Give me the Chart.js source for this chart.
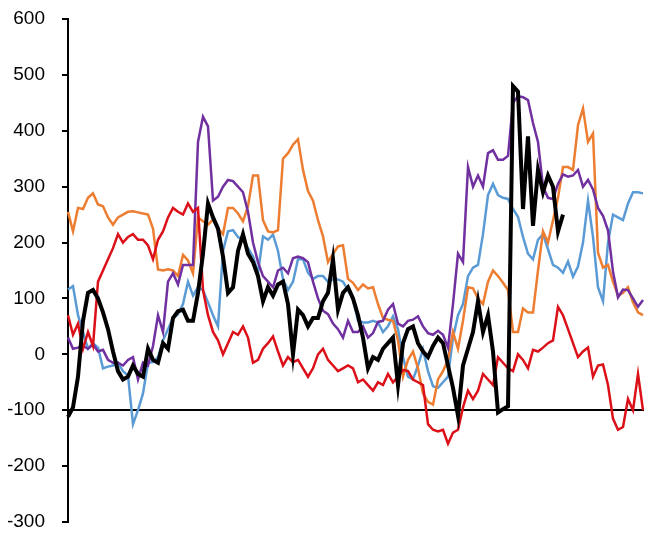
<!DOCTYPE html>
<html>
<head>
<meta charset="utf-8">
<script src="https://cdn.jsdelivr.net/npm/chart.js@4/dist/chart.umd.min.js"></script>
<style>
  body { margin: 0; background: #fff; }
  #wrap { width: 651px; height: 533px; }
</style>
</head>
<body>
<div id="wrap"><canvas id="chart"></canvas></div>
<script>
// values, one per step along the x axis
const orange = [
    255, 220, 262, 260, 280, 288, 268, 265, 245, 232,
    245, 250, 255, 256, 254, 252, 250, 225, 152, 150,
    152, 150, 140, 178, 168, 145, 245, 238, 232, 241,
    225, 215, 262, 262, 252, 238, 265, 320, 320, 240,
    220, 218, 222, 350, 360, 375, 385, 330, 292, 275,
    240, 211, 165, 180, 193, 195, 135, 128, 115, 125,
    118, 120, 90, 65, 62, 60, 25, -40, -10, 5,
    -25, -70, -85, -90, -45, -30, -10, 40, 10, 60,
    120, 118, 100, 90, 130, 150, 140, 128, 115, 40,
    40, 82, 75, 75, 150, 220, 200, 240, 280, 335,
    335, 330, 410, 440, 380, 395, 182, 155, 160, 130,
    105, 110, 120, 93, 75, 70
];

const blue = [
    116, 122, 70, 40, 10, 20, 12, -25, -22, -20,
    -15, -30, -38, -125, -100, -70, -15, -14, -5, 25,
    45, 65, 72, 90, 130, 105, 120, 115, 93, 70,
    50, 185, 220, 222, 210, 205, 190, 175, 146, 211,
    205, 214, 185, 134, 115, 130, 170, 170, 146, 135,
    140, 140, 130, 134, 134, 130, 115, 98, 60, 57,
    57, 60, 57, 40, 50, 68, 45, -5, -40, -45,
    -20, 9, -30, -57, -60, -50, -40, 30, 70, 90,
    140, 155, 160, 215, 285, 305, 285, 280, 278, 260,
    246, 210, 180, 170, 205, 215, 188, 160, 155, 146,
    166, 139, 157, 200, 275, 210, 120, 95, 200, 250,
    245, 240, 270, 290, 290, 288
];

const purple = [
    30, 10, 12, 15, 10, 18, 5, 8, -10, -15,
    -15, -20, -10, -5, -45, -15, -20, 15, 70, 40,
    130, 145, 125, 160, 160, 160, 380, 425, 408, 275,
    282, 300, 312, 310, 300, 290, 255, 200, 165, 140,
    130, 120, 150, 155, 145, 172, 175, 172, 165, 130,
    100, 78, 72, 55, 45, 30, 60, 40, 40, 50,
    30, 38, 58, 60, 80, 90, 55, 50, 60, 62,
    68, 50, 38, 35, 42, 35, 12, 90, 180, 165,
    335, 300, 320, 300, 360, 365, 348, 348, 355, 450,
    462, 460, 455, 414, 380, 300, 280, 278, 305, 322,
    318, 320, 330, 300, 312, 295, 262, 248, 222, 148,
    102, 116, 115, 100, 85, 97
];

const red = [
    70, 35, 55, 10, 40, 15, 130, 150, 170, 190,
    215, 200, 210, 215, 205, 205, 195, 170, 205, 220,
    245, 262, 255, 250, 270, 255, 262, 115, 70, 40,
    25, 0, 20, 40, 35, 50, 30, -15, -10, 10,
    20, 32, 5, -20, -5, -14, -10, -25, -40, -25,
    0, 10, -10, -20, -30, -25, -20, -25, -50, -45,
    -55, -65, -50, -55, -35, -50, -40, -28, -30, -45,
    -50, -55, -125, -135, -138, -135, -160, -140, -135, -95,
    -65, -80, -65, -35, -45, -55, -5, -15, -25, -30,
    0, -10, -25, 8, 5, 12, 20, 25, 85, 70,
    45, 20, -5, 5, 12, -40, -20, -18, -55, -115,
    -135, -130, -80, -100, -35, -100
];

const black = [
    -112, -95, -40, 60, 110, 115, 100, 75, 45, 5,
    -30, -45, -40, -20, -35, -40, 10, -10, -15, 20,
    10, 65, 77, 80, 60, 60, 110, 180, 270, 245,
    225, 175, 110, 120, 185, 215, 180, 165, 140, 95,
    120, 105, 125, 130, 90, 0, 80, 70, 50, 65,
    65, 95, 110, 170, 80, 110, 120, 100, 70, 30,
    -25, -5, -10, 10, 20, 30, -55, 20, 45, 50,
    20, 5, -5, 15, 30, 20, -20, -60, -110, -20,
    10, 40, 95, 40, 70, 5, -104, -98, -93, 480,
    470, 260, 390, 230, 330, 290, 320, 300, 220, 250,
    null, null, null, null, null, null, null, null, null, null,
    null, null, null, null, null, null
];

const labels = orange.map((v, i) => String(i + 1));
const yTicks = { min: -300, max: 600, step: 100 };

Chart.defaults.font.family = '"Liberation Sans", Arial, sans-serif';
Chart.defaults.font.size = 19;
Chart.defaults.color = '#000';

function line(data, color, width) {
    return {
        data: data,
        borderColor: color,
        borderWidth: width,
        pointRadius: 0,
        tension: 0,
        fill: false,
        spanGaps: false
    };
}

new Chart(document.getElementById('chart'), {
    type: 'line',
    data: {
        labels: labels,
        datasets: [
            line(black, '#000000', 4),
            line(red, '#DC1018', 2.5),
            line(purple, '#7030A0', 2.5),
            line(orange, '#ED7D31', 2.5),
            line(blue, '#5B9BD5', 2.5)
        ]
    },
    options: {
        responsive: true,
        maintainAspectRatio: false,
        animation: false,
        layout: {
            padding: { top: 19, right: 8, bottom: 11, left: 8 }
        },
        plugins: {
            legend: { display: false },
            tooltip: { enabled: false }
        },
        scales: {
            x: {
                position: { y: -100 },
                offset: false,
                afterFit: (scale) => { scale.height = 0; },
                ticks: { display: false },
                grid: { display: false },
                border: { display: true, color: '#000', width: 2 }
            },
            y: {
                min: yTicks.min,
                max: yTicks.max,
                afterFit: (scale) => {
                    scale.width = 60;
                    scale.paddingTop = 0;
                    scale.paddingBottom = 0;
                },
                ticks: { stepSize: yTicks.step, padding: 17 },
                grid: {
                    display: true,
                    drawOnChartArea: false,
                    drawTicks: true,
                    tickLength: 6,
                    color: '#000',
                    lineWidth: 2
                },
                border: { display: true, color: '#000', width: 2 }
            }
        }
    }
});
</script>
</body>
</html>
